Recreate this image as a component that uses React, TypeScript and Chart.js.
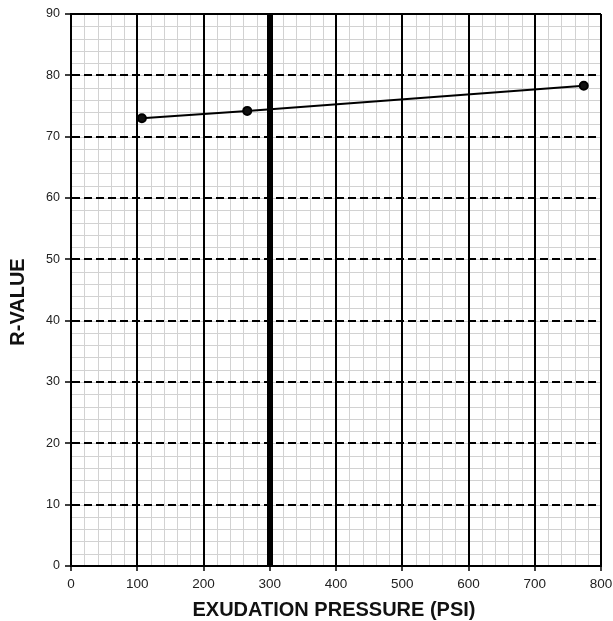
import React, { useEffect, useRef } from "react";
import { Chart, registerables } from "chart.js";

Chart.register(...registerables);

// Data
const pressure = [107, 266, 774];
const rValue = [73.0, 74.2, 78.3];

const xMin = 0;
const xMax = 800;
const xMajorStep = 100;
const xMinorStep = 20;
const thickX = 300;

const yMin = 0;
const yMax = 90;
const yMajorStep = 10;
const yMinorStep = 2;

const xTitle = "EXUDATION PRESSURE (PSI)";
const yTitle = "R-VALUE";

const FONT = "'Liberation Sans', Arial, sans-serif";

const minorGridPlugin = {
  id: "minorGrid",
  beforeDraw(chart: any) {
    const { ctx, chartArea, scales } = chart;
    const xs = scales.x;
    const ys = scales.y;
    ctx.save();
    ctx.strokeStyle = "#d2d2d2";
    ctx.lineWidth = 1;
    ctx.beginPath();
    for (let v = xMin; v <= xMax; v += xMinorStep) {
      const px = Math.round(xs.getPixelForValue(v)) + 0.5;
      ctx.moveTo(px, chartArea.top);
      ctx.lineTo(px, chartArea.bottom);
    }
    for (let v = yMin; v <= yMax; v += yMinorStep) {
      const py = Math.round(ys.getPixelForValue(v)) + 0.5;
      ctx.moveTo(chartArea.left, py);
      ctx.lineTo(chartArea.right, py);
    }
    ctx.stroke();
    ctx.restore();
  },
  afterDraw(chart: any) {
    const { ctx } = chart;
    ctx.save();
    ctx.fillStyle = "#111";
    ctx.font = `bold 20px ${FONT}`;
    ctx.textAlign = "center";
    ctx.textBaseline = "middle";
    ctx.fillText(xTitle, 334, 610);
    ctx.translate(18, 302);
    ctx.rotate(-Math.PI / 2);
    ctx.fillText(yTitle, 0, 0);
    ctx.restore();
  },
};

export default function App() {
  const ref = useRef<HTMLCanvasElement | null>(null);

  useEffect(() => {
    document.body.style.margin = "0";
    const canvas = ref.current;
    if (!canvas) return;
    const chart = new Chart(canvas, {
      type: "scatter",
      data: {
        datasets: [
          {
            data: pressure.map((x, i) => ({ x, y: rValue[i] })),
            showLine: true,
            borderColor: "#000",
            backgroundColor: "#000",
            borderWidth: 2,
            pointRadius: 4,
            pointBackgroundColor: "#111",
            pointBorderColor: "#000",
          },
        ],
      },
      options: {
        responsive: false,
        animation: false,
        events: [],
        layout: { padding: { top: 14, right: 0, left: 0, bottom: 0 } },
        plugins: {
          legend: { display: false },
          tooltip: { enabled: false },
          title: { display: false },
        },
        scales: {
          x: {
            type: "linear",
            min: xMin,
            max: xMax,
            afterFit: (s: any) => {
              s.height = 55;
              s.paddingRight = 12;
            },
            ticks: {
              stepSize: xMajorStep,
              autoSkip: false,
              maxRotation: 0,
              padding: 5,
              color: "#222",
              font: { family: FONT, size: 13.5 },
            },
            grid: {
              color: "#000",
              lineWidth: (c: any) => (c.tick && c.tick.value === thickX ? 6 : 2),
              drawTicks: true,
              tickLength: 5,
              tickColor: "#000",
              tickWidth: 1.5,
            },
            border: { display: true, color: "#000", width: 2 },
          },
          y: {
            type: "linear",
            min: yMin,
            max: yMax,
            afterFit: (s: any) => {
              s.width = 71;
            },
            ticks: {
              stepSize: yMajorStep,
              autoSkip: false,
              padding: 5,
              color: "#222",
              font: { family: FONT, size: 12.5 },
            },
            grid: {
              color: "#000",
              lineWidth: 2,
              drawTicks: true,
              tickLength: 6,
              tickColor: "#000",
              tickWidth: 1.5,
            },
            border: {
              display: true,
              color: "#000",
              width: 2,
              dash: (c: any) =>
                c.tick && c.tick.value > yMin && c.tick.value < yMax ? [8, 4] : [],
            },
          },
        },
      },
      plugins: [minorGridPlugin],
    } as any);
    return () => chart.destroy();
  }, []);

  return <canvas ref={ref} width={613} height={621} style={{ display: "block" }} />;
}
